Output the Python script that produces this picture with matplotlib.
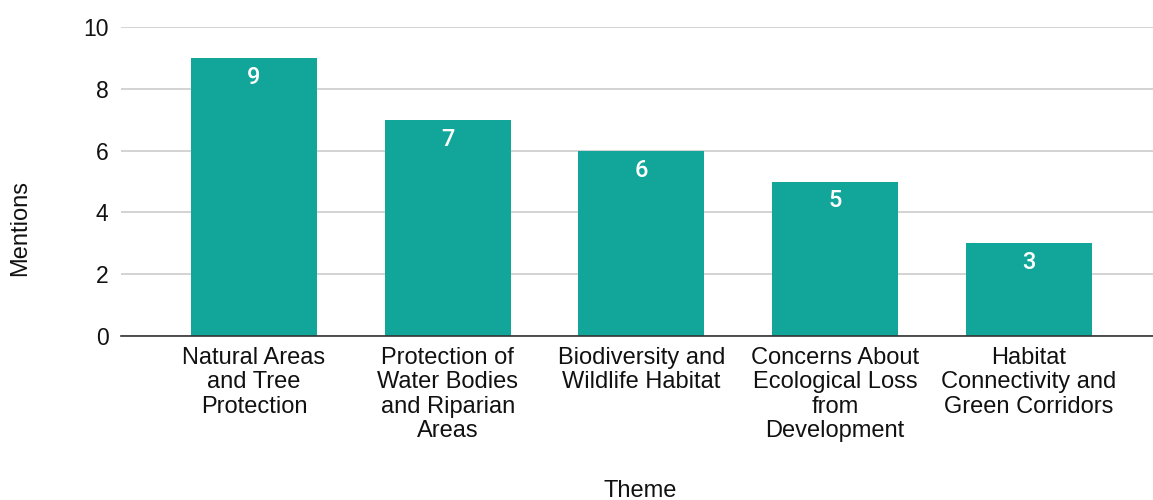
import matplotlib
matplotlib.use("Agg")
import matplotlib.pyplot as plt

categories = [
    "Natural Areas\nand Tree\nProtection",
    "Protection of\nWater Bodies\nand Riparian\nAreas",
    "Biodiversity and\nWildlife Habitat",
    "Concerns About\nEcological Loss\nfrom\nDevelopment",
    "Habitat\nConnectivity and\nGreen Corridors",
]
values = [9, 7, 6, 5, 3]
yticks = [0, 2, 4, 6, 8, 10]

plt.rcParams['font.family'] = ['Liberation Sans', 'DejaVu Sans']

fig = plt.figure(figsize=(11.53, 5.0), dpi=100)
ax = fig.add_axes([121/1153, 1-336/500, 1-121/1153, (336-27)/500])

x = list(range(len(categories)))
bars = ax.bar(x, values, width=0.65, color='#12a69a', zorder=3)

for xi, v in zip(x, values):
    ax.annotate(str(v), (xi, v), xytext=(0, -14), textcoords='offset points',
                ha='center', va='center', color='white', fontsize=17,
                family=['Roboto', 'DejaVu Sans'], fontweight='medium', zorder=4)

ax.set_xlim(-0.686, 4.64)
ax.set_ylim(0, 10)
ax.set_yticks(yticks)
ax.set_yticklabels([str(t) for t in yticks], fontsize=16.5)
ax.set_xticks(x)
ax.set_xticklabels(categories, fontsize=17, linespacing=1.14, va='top')
ax.tick_params(axis='both', length=0, colors='#111111')
ax.tick_params(axis='y', pad=9)
ax.tick_params(axis='x', pad=8)
ax.grid(axis='y', color='#cccccc', linewidth=1.2, zorder=0)
for s in ['top', 'right', 'left']:
    ax.spines[s].set_visible(False)
ax.spines['bottom'].set_color('#333333')
ax.spines['bottom'].set_linewidth(1.2)
ax.spines['bottom'].set_zorder(5)

fig.text(20/1153, 1-228/500, "Mentions", rotation=90, ha='center', va='center', fontsize=17, color='#111111')
fig.text(640/1153, 1-491/500, "Theme", ha='center', va='center', fontsize=17, color='#111111')

fig.savefig("out.png", dpi=100)
